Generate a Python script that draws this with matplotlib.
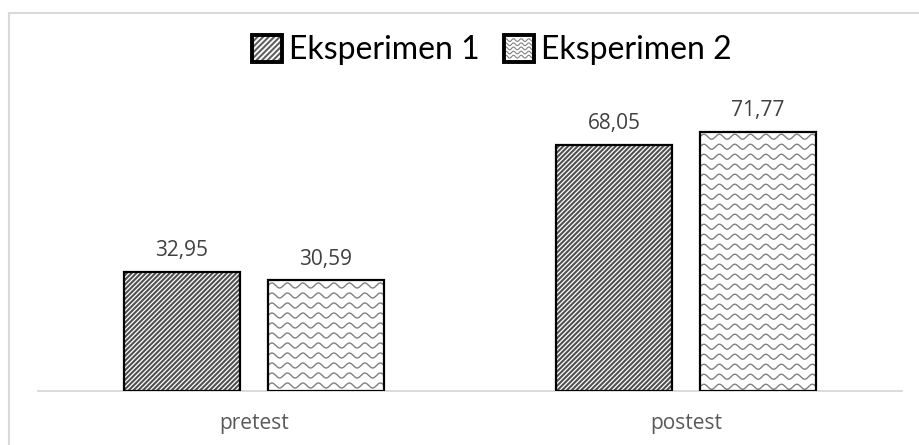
import numpy as np
import matplotlib.pyplot as plt
from matplotlib.patches import Rectangle
from matplotlib.lines import Line2D
from matplotlib.legend_handler import HandlerBase

plt.rcParams['font.family'] = ['Open Sans', 'DejaVu Sans']
plt.rcParams['hatch.color'] = '#505050'
plt.rcParams['hatch.linewidth'] = 1.5

# Data
categories = ['pretest', 'postest']
series_names = ['Eksperimen 1', 'Eksperimen 2']
eksperimen_1 = [32.95, 68.05]
eksperimen_2 = [30.59, 71.77]

W, H = 919, 445
fig = plt.figure(figsize=(W / 100, H / 100), dpi=100)
ax = fig.add_axes([38 / W, 54 / H, 864 / W, 289 / H])
ax.set_xlim(0, 2)
ax.set_ylim(0, 80)

x = np.arange(len(categories)) + 0.5
width = 0.2685
offset = 0.1667


def fmt(v):
    return f"{v:.2f}".replace('.', ',')


def add_waves(ax, patch, period_px=15.5, row_px=10, amp_px=2.5, color='#808080'):
    # wavy fill pattern drawn as sine lines clipped to the bar
    p0 = ax.transData.transform((0, 0))
    p1 = ax.transData.transform((1, 1))
    sx, sy = p1[0] - p0[0], p1[1] - p0[1]
    x0, y0 = patch.get_x(), patch.get_y()
    w, h = patch.get_width(), patch.get_height()
    xs = np.linspace(x0, x0 + w, 300)
    phase = 2 * np.pi * (xs - x0) * sx / period_px
    top = y0 + h
    for yc in np.arange(top - row_px / 2 / sy, y0 - row_px / sy, -row_px / sy):
        ln = Line2D(xs, yc + amp_px / sy * np.sin(phase), color=color, lw=1.0)
        ax.add_line(ln)
        ln.set_clip_path(patch)


# Eksperimen 1: diagonal stripes
ax.bar(x - offset, eksperimen_1, width, color='white', edgecolor='#505050',
       linewidth=0, hatch='///////', zorder=2)
ax.bar(x - offset, eksperimen_1, width, fill=False, edgecolor='black',
       linewidth=1.6, zorder=4)

# Eksperimen 2: wavy pattern
bars2 = ax.bar(x + offset, eksperimen_2, width, color='white', linewidth=0, zorder=2)
for b in bars2:
    add_waves(ax, b)
ax.bar(x + offset, eksperimen_2, width, fill=False, edgecolor='black',
       linewidth=1.6, zorder=4)

# Value labels
for xi, v in zip(x - offset, eksperimen_1):
    ax.annotate(fmt(v), (xi, v), xytext=(0, 11.5), textcoords='offset points',
                ha='center', va='baseline', fontsize=15, color='#404040')
for xi, v in zip(x + offset, eksperimen_2):
    ax.annotate(fmt(v), (xi, v), xytext=(0, 11.5), textcoords='offset points',
                ha='center', va='baseline', fontsize=15, color='#404040')

# Axes styling
for s in ['top', 'right', 'left']:
    ax.spines[s].set_visible(False)
ax.spines['bottom'].set_color('#d9d9d9')
ax.spines['bottom'].set_linewidth(1.3)
ax.spines['bottom'].set_zorder(1)
ax.set_yticks([])
ax.set_xticks(x)
ax.set_xticklabels(categories)
ax.tick_params(axis='x', length=0, pad=16, labelsize=15, labelcolor='#595959')


class SwatchHandler(HandlerBase):
    def __init__(self, pattern):
        super().__init__()
        self.pattern = pattern

    def create_artists(self, legend, orig_handle, xdescent, ydescent,
                       width, height, fontsize, trans):
        x0, y0 = -xdescent, -ydescent
        artists = []
        if self.pattern == 'stripes':
            bg = Rectangle((x0, y0), width, height, facecolor='white',
                           edgecolor='#606060', linewidth=0, hatch='//////',
                           transform=trans)
            artists.append(bg)
        else:
            bg = Rectangle((x0, y0), width, height, facecolor='white',
                           linewidth=0, transform=trans)
            artists.append(bg)
            xs = np.linspace(x0 + 1.5, x0 + width - 1.5, 60)
            for yc in np.linspace(y0 + height * 0.2, y0 + height * 0.8, 5):
                ys = yc + 1.0 * np.sin(2 * np.pi * (xs - x0) / 5.5)
                artists.append(Line2D(xs, ys, color='#808080', lw=0.8,
                                      transform=trans))
        artists.append(Rectangle((x0, y0), width, height, fill=False,
                                 edgecolor='black', linewidth=2.8,
                                 transform=trans))
        return artists


h1 = Rectangle((0, 0), 1, 1)
h2 = Rectangle((0, 0), 1, 1)
fig.legend([h1, h2], series_names, loc='center',
           bbox_to_anchor=(492 / W, 1 - 50 / H), ncol=2, frameon=False,
           prop={'family': ['Lato', 'DejaVu Sans'], 'size': 23},
           handlelength=0.95, handleheight=0.95, handletextpad=0.22,
           columnspacing=0.75, borderpad=0,
           handler_map={h1: SwatchHandler('stripes'), h2: SwatchHandler('waves')})

# Chart frame
fig.add_artist(Line2D([9 / W, 9 / W], [0, 1 - 13 / H], transform=fig.transFigure,
                      color='#d9d9d9', lw=1.5))
fig.add_artist(Line2D([9 / W, 1], [1 - 13 / H, 1 - 13 / H], transform=fig.transFigure,
                      color='#d9d9d9', lw=1.5))

fig.savefig('out.png', dpi=100)
